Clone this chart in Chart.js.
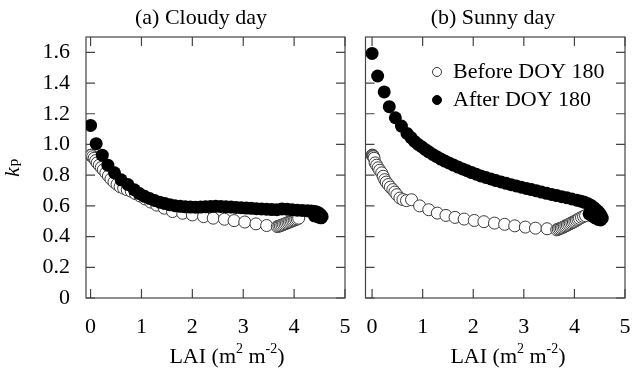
<!DOCTYPE html>
<html>
<head>
<meta charset="utf-8">
<script src="https://cdn.jsdelivr.net/npm/chart.js@4.4.0/dist/chart.umd.min.js"></script>
<style>
  body { margin: 0; background: #fff; width: 632px; height: 378px; overflow: hidden; position: relative; }
  canvas { position: absolute; top: 0; }
</style>
</head>
<body>
<canvas id="cloudy" width="355" height="378" style="left:0"></canvas>
<canvas id="sunny" width="277" height="378" style="left:355px"></canvas>
<script>
const FONT = '"Liberation Serif", "Times New Roman", serif';

const xTicks = [0, 1, 2, 3, 4, 5];
const xTickLabels = ['0', '1', '2', '3', '4', '5'];
const yTicks = [0, 0.2, 0.4, 0.6, 0.8, 1.0, 1.2, 1.4, 1.6];
const yTickLabels = ['0', '0.2', '0.4', '0.6', '0.8', '1.0', '1.2', '1.4', '1.6'];
const seriesNames = ['Before DOY 180', 'After DOY 180'];

// (a) cloudy day
const cloudyBeforeLai = [0.00,0.02,0.04,0.07,0.10,0.13,0.17,0.21,0.25,0.30,0.35,0.40,0.46,0.52,0.58,0.65,0.72,0.80,0.88,0.97,1.07,1.18,1.30,1.45,1.61,1.81,2.00,2.22,2.41,2.63,2.82,3.03,3.25,3.46,3.67,3.70,3.73,3.76,3.79,3.82,3.85,3.88,3.91,3.94,3.97,4.00,4.03,4.06,4.09];
const cloudyBeforeKp = [0.93,0.93,0.92,0.91,0.895,0.88,0.865,0.85,0.835,0.815,0.795,0.775,0.755,0.74,0.725,0.715,0.705,0.695,0.68,0.665,0.645,0.625,0.605,0.585,0.563,0.552,0.541,0.53,0.52,0.513,0.504,0.495,0.483,0.472,0.465,0.468,0.471,0.475,0.479,0.483,0.487,0.491,0.495,0.499,0.503,0.507,0.511,0.515,0.52];
const cloudyAfterLai = [0.00,0.11,0.23,0.34,0.47,0.60,0.73,0.86,0.96,1.06,1.16,1.26,1.36,1.46,1.56,1.66,1.76,1.86,1.96,2.06,2.16,2.26,2.36,2.46,2.56,2.66,2.76,2.86,2.96,3.06,3.16,3.26,3.36,3.46,3.56,3.66,3.76,3.86,3.96,4.06,4.16,4.26,4.34,4.41,4.46,4.50,4.53,4.55,4.53,4.47,4.40];
const cloudyAfterKp = [1.124,1.005,0.93,0.865,0.815,0.77,0.74,0.705,0.68,0.662,0.648,0.635,0.624,0.615,0.607,0.601,0.597,0.594,0.592,0.591,0.592,0.594,0.596,0.597,0.596,0.594,0.592,0.59,0.588,0.586,0.584,0.582,0.58,0.578,0.576,0.575,0.58,0.578,0.575,0.572,0.57,0.568,0.566,0.563,0.558,0.55,0.54,0.53,0.522,0.528,0.535];

// (b) sunny day
const sunnyBeforeLai = [0.00,0.01,0.02,0.03,0.04,0.06,0.09,0.12,0.15,0.19,0.22,0.25,0.28,0.32,0.36,0.41,0.45,0.49,0.55,0.61,0.68,0.78,0.94,1.12,1.29,1.46,1.64,1.82,2.02,2.21,2.42,2.62,2.82,3.03,3.23,3.46,3.65,3.68,3.71,3.74,3.77,3.80,3.83,3.86,3.89,3.92,3.95,3.98,4.01,4.04,4.07,4.10,4.14,4.18,4.22];
const sunnyBeforeKp = [0.93,0.93,0.925,0.92,0.91,0.88,0.865,0.848,0.832,0.815,0.793,0.771,0.755,0.739,0.722,0.706,0.69,0.673,0.651,0.641,0.634,0.64,0.60,0.575,0.553,0.538,0.525,0.514,0.505,0.497,0.488,0.48,0.47,0.462,0.455,0.451,0.444,0.448,0.452,0.456,0.46,0.465,0.47,0.475,0.48,0.485,0.49,0.495,0.50,0.506,0.512,0.518,0.525,0.531,0.536];
const sunnyAfterLai = [0.00,0.11,0.24,0.34,0.46,0.58,0.69,0.77,0.84,0.91,0.98,1.05,1.12,1.20,1.28,1.36,1.44,1.52,1.61,1.70,1.79,1.88,1.97,2.06,2.15,2.25,2.35,2.45,2.55,2.65,2.75,2.85,2.95,3.05,3.15,3.25,3.35,3.45,3.55,3.65,3.75,3.85,3.95,4.05,4.13,4.20,4.27,4.33,4.38,4.42,4.46,4.50,4.53,4.55,4.52,4.47,4.41,4.35,4.29];
const sunnyAfterKp = [1.593,1.446,1.342,1.246,1.174,1.12,1.072,1.045,1.02,1.0,0.985,0.968,0.952,0.935,0.92,0.905,0.892,0.88,0.866,0.853,0.841,0.829,0.817,0.806,0.795,0.785,0.775,0.765,0.756,0.747,0.738,0.73,0.722,0.714,0.706,0.698,0.69,0.682,0.674,0.667,0.66,0.653,0.645,0.637,0.63,0.623,0.614,0.603,0.59,0.578,0.566,0.552,0.537,0.52,0.508,0.512,0.522,0.535,0.548];

const pts = (xs, ys) => xs.map((x, i) => ({ x, y: ys[i] }));

// frame with inward ticks, titles, axis labels, legend
const framePlugin = {
  id: 'frame',
  beforeDatasetsDraw(chart) {
    const { ctx, chartArea: a, scales: { x, y } } = chart;
    ctx.save();
    ctx.strokeStyle = '#444';
    ctx.lineWidth = 1.2;
    ctx.beginPath();
    xTicks.forEach(v => {
      const px = x.getPixelForValue(v);
      ctx.moveTo(px, a.top); ctx.lineTo(px, a.top + 9);
      ctx.moveTo(px, a.bottom); ctx.lineTo(px, a.bottom - 9);
    });
    yTicks.forEach(v => {
      const py = y.getPixelForValue(v);
      ctx.moveTo(a.left, py); ctx.lineTo(a.left + 9, py);
      ctx.moveTo(a.right, py); ctx.lineTo(a.right - 9, py);
    });
    ctx.stroke();
    ctx.strokeRect(a.left, a.top, a.right - a.left, a.bottom - a.top);
    ctx.restore();
  },
  afterDraw(chart, args, o) {
    const { ctx } = chart;
    ctx.save();
    ctx.fillStyle = '#000';
    ctx.textBaseline = 'middle';
    ctx.textAlign = 'center';
    ctx.font = '22px ' + FONT;
    ctx.fillText(o.title, o.titleX, 18);

    // LAI (m2 m-2)
    const parts = [['LAI (m', 0], ['2', 1], [' m', 0], ['-2', 1], [')', 0]];
    ctx.textAlign = 'left';
    let w = 0;
    parts.forEach(p => { ctx.font = (p[1] ? 14 : 22) + 'px ' + FONT; w += ctx.measureText(p[0]).width; });
    let cx = o.xTitleX - w / 2;
    parts.forEach(p => {
      ctx.font = (p[1] ? 14 : 22) + 'px ' + FONT;
      ctx.fillText(p[0], cx, p[1] ? 349 : 357);
      cx += ctx.measureText(p[0]).width;
    });

    if (o.yTitle) {
      ctx.save();
      ctx.translate(19, 177);
      ctx.rotate(-Math.PI / 2);
      ctx.textBaseline = 'alphabetic';
      ctx.font = 'italic 22px ' + FONT;
      ctx.fillText('k', 0, 0);
      const kw = ctx.measureText('k').width;
      ctx.font = '15px ' + FONT;
      ctx.fillText('p', kw + 1, -1);
      ctx.restore();
    }

    if (o.legend) {
      const sets = chart.data.datasets;
      [0, 1].forEach(i => {
        const ds = sets[i];
        const ly = o.legend.y + i * 28;
        ctx.beginPath();
        ctx.arc(o.legend.x, ly, 4.5, 0, Math.PI * 2);
        ctx.fillStyle = ds.pointBackgroundColor;
        ctx.fill();
        ctx.strokeStyle = ds.pointBorderColor;
        ctx.lineWidth = 1;
        ctx.stroke();
        ctx.fillStyle = '#000';
        ctx.font = '22px ' + FONT;
        ctx.fillText(ds.label, o.legend.x + 16, ly);
      });
    }
    ctx.restore();
  }
};

function makeChart(id, before, after, o) {
  return new Chart(document.getElementById(id), {
    type: 'scatter',
    data: {
      datasets: [
        { label: seriesNames[0], data: before, order: 2, pointRadius: 6,
          pointBackgroundColor: '#fff', pointBorderColor: '#3a3a3a', pointBorderWidth: 1 },
        { label: seriesNames[1], data: after, order: 1, pointRadius: 6.5,
          pointBackgroundColor: '#000', pointBorderColor: '#000', pointBorderWidth: 0 }
      ]
    },
    options: {
      responsive: false,
      animation: false,
      events: [],
      layout: { padding: o.padding },
      plugins: { legend: { display: false }, tooltip: { enabled: false }, frame: o.frame },
      scales: {
        x: {
          type: 'linear', min: o.xMin, max: 5,
          grid: { display: false, drawTicks: false },
          border: { display: false },
          afterBuildTicks: s => { s.ticks = xTicks.map(v => ({ value: v })); },
          afterFit: s => { s.height = 80; s.paddingLeft = 0; s.paddingRight = 0; },
          ticks: { padding: 16, color: '#000', font: { family: FONT, size: 22 },
                   callback: (v, i) => xTickLabels[i] }
        },
        y: {
          display: o.showY, min: 0, max: 1.7,
          grid: { display: false, drawTicks: false },
          border: { display: false },
          afterBuildTicks: s => { s.ticks = yTicks.map(v => ({ value: v })); },
          afterFit: s => { s.width = o.showY ? 86 : 0; s.paddingTop = 0; s.paddingBottom = 0; },
          ticks: { padding: 16, color: '#000', font: { family: FONT, size: 22 },
                   callback: (v, i) => yTickLabels[i] }
        }
      }
    },
    plugins: [framePlugin]
  });
}

makeChart('cloudy', pts(cloudyBeforeLai, cloudyBeforeKp), pts(cloudyAfterLai, cloudyAfterKp), {
  padding: { left: 0, right: 10, top: 37, bottom: 0 },
  xMin: -0.09, showY: true,
  frame: { title: '(a) Cloudy day', titleX: 201, xTitleX: 227, yTitle: true }
});

makeChart('sunny', pts(sunnyBeforeLai, sunnyBeforeKp), pts(sunnyAfterLai, sunnyAfterKp), {
  padding: { left: 10.5, right: 5, top: 37, bottom: 0 },
  xMin: -0.13, showY: false,
  frame: { title: '(b) Sunny day', titleX: 138, xTitleX: 153, legend: { x: 82, y: 72 } }
});
</script>
</body>
</html>
